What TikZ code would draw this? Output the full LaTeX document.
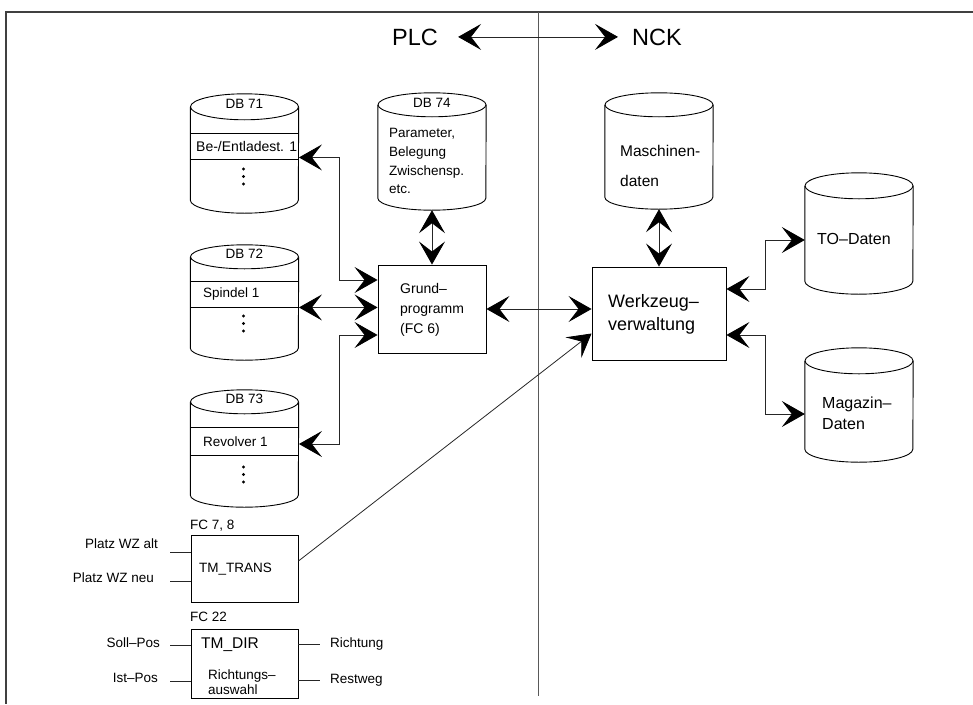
\documentclass[tikz,border=0pt]{standalone}
\usepackage{fontspec}
\setmainfont{Liberation Sans}
\usetikzlibrary{arrows.meta}

% database drum: name, centre x, y of top ellipse, y where the sides end, ellipse half height
\newcommand\dbcyl[5]{%
  \node[cylbody, minimum height={(#4-#3)*1pt}] (#1) at (#2,{(#3+#4)/2}) {};
  \draw[cylline] (#1.north west) -- (#1.south west)
    arc[start angle=180, end angle=360, x radius=54pt, y radius=#5pt] -- (#1.north east);
  \draw[cylline] (#1.north) ellipse[x radius=54pt, y radius=#5pt];
}

\tikzset{
  bigtip/.tip={Stealth[length=23pt,width=26pt,inset=10pt,color=black]},
  conn/.style={line width=0.8pt, draw=black!85},
  dbl/.style={conn, bigtip-bigtip},
  one/.style={conn, -bigtip},
  cylline/.style={line width=0.9pt, draw=black},
  cylbody/.style={rectangle, draw=none, inner sep=0pt, minimum width=108pt},
  band/.style={rectangle, draw=black, line width=0.9pt, inner sep=0pt, minimum width=108pt},
  box/.style={rectangle, draw=black, line width=0.9pt, inner sep=0pt},
  lbl/.style={anchor=base west, inner sep=0pt, font=\fontsize{13.5}{16}\selectfont},
  lblr/.style={lbl, anchor=base east},
  lblc/.style={lbl, anchor=base},
  dotc/.style={circle, fill=black, inner sep=0pt, minimum size=3.4pt},
}

\begin{document}
\begin{tikzpicture}[x=1pt, y=-1pt]
\useasboundingbox (0,0) rectangle (973,704);

% outer frame (top and left edges) and the PLC / NCK divider
\draw[line width=1.6pt, black!75] (973,12) -- (6,12) -- (6,704);
\draw[line width=1pt, black!65] (538,12) -- (538,696);

% headline
\node[lbl, font=\fontsize{23.5}{28}\selectfont] (plc) at (392,45) {PLC};
\node[lbl, font=\fontsize{23.5}{28}\selectfont] (nck) at (632,45) {NCK};
\draw[dbl] ([xshift=20pt]plc.east) -- ([xshift=-14pt]nck.west);

% data blocks on the PLC side
\dbcyl{db71}{244.5}{107}{200}{13}
\dbcyl{db72}{244.5}{257}{348}{12}
\dbcyl{db73}{244.5}{402}{495}{12}
\dbcyl{db74}{432}{105}{198}{12}

\node[band, minimum height=26pt] (be) at (244.5,146) {};
\node[band, minimum height=26pt] (sp) at (244.5,294) {};
\node[band, minimum height=28pt] (rev) at (244.5,441) {};

\node[lblc] (db71t) at (244.5,108) {DB 71};
\node[lblc] (db72t) at (244.5,258) {DB 72};
\node[lblc] (db73t) at (244.5,403) {DB 73};
\node[lblc] (db74t) at (432,107) {DB 74};

\node[lbl, font=\fontsize{14}{16}\selectfont] (bet) at (196,151.5) {Be-/Entladest. 1};
\node[lbl] (spt) at (203,297) {Spindel 1};
\node[lbl] (revt) at (203,446) {Revolver 1};

\node[dotc] (d1a) at (243.5,169) {};
\node[dotc] (d1b) at (243.5,176.5) {};
\node[dotc] (d1c) at (243.5,184) {};
\node[dotc] (d2a) at (243.5,316) {};
\node[dotc] (d2b) at (243.5,323.5) {};
\node[dotc] (d2c) at (243.5,331) {};
\node[dotc] (d3a) at (243.5,467) {};
\node[dotc] (d3b) at (243.5,474.5) {};
\node[dotc] (d3c) at (243.5,482) {};

\node[lbl] (p1) at (389,137) {Parameter,};
\node[lbl] (p2) at (389,156) {Belegung};
\node[lbl] (p3) at (389,175) {Zwischensp.};
\node[lbl] (p4) at (389,193) {etc.};

% basic program block
\node[box, minimum width=108pt, minimum height=88pt] (grund) at (432,309) {};
\node[lbl, font=\fontsize{14}{16}\selectfont] (g1) at (400,293) {Grund–};
\node[lbl, font=\fontsize{14}{16}\selectfont] (g2) at (400,313) {programm};
\node[lbl, font=\fontsize{14}{16}\selectfont] (g3) at (400,333) {(FC 6)};

% NCK side
\dbcyl{masch}{659}{105}{197}{12}
\dbcyl{to}{859}{186}{281}{13}
\dbcyl{mag}{859}{361}{449}{13}

\node[lbl, font=\fontsize{15.5}{18}\selectfont] (m1) at (620,156) {Maschinen-};
\node[lbl, font=\fontsize{15.5}{18}\selectfont] (m2) at (620,186) {daten};
\node[lbl, font=\fontsize{16}{18}\selectfont] (tot) at (817,244) {TO–Daten};
\node[lbl, font=\fontsize{16}{18}\selectfont] (mg1) at (822,408) {Magazin–};
\node[lbl, font=\fontsize{16}{18}\selectfont] (mg2) at (822,429) {Daten};

\node[box, minimum width=134pt, minimum height=93pt] (werk) at (659,313.5) {};
\node[lbl, font=\fontsize{18}{20}\selectfont] (w1) at (608,307) {Werkzeug–};
\node[lbl, font=\fontsize{18}{20}\selectfont] (w2) at (608,330) {verwaltung};

% function blocks
\node[lbl] (fc78) at (190,529) {FC 7, 8};
\node[box, minimum width=107pt, minimum height=67pt] (tmt) at (244.5,568.5) {};
\node[lbl] (tmtt) at (199,572) {TM\_TRANS};
\node[lblr] (pa) at (158,548) {Platz WZ alt};
\node[lblr] (pn) at (154,582) {Platz WZ neu};

\node[lbl] (fc22) at (190,621) {FC 22};
\node[box, minimum width=107pt, minimum height=69pt] (tmd) at (244.5,663.5) {};
\node[lbl, font=\fontsize{15.5}{18}\selectfont] (tmdt) at (201,648) {TM\_DIR};
\node[lbl] (ra1) at (208,679.5) {Richtungs–};
\node[lbl] (ra2) at (208,694) {auswahl};
\node[lblr] (soll) at (160,647) {Soll–Pos};
\node[lblr] (ist) at (158,682) {Ist–Pos};
\node[lbl] (richt) at (330,647) {Richtung};
\node[lbl] (rest) at (330,683) {Restweg};

% block pins
\draw[conn] ([yshift=16.5pt]tmt.west) -- ++(-21,0);
\draw[conn] ([yshift=-12.5pt]tmt.west) -- ++(-21,0);
\draw[conn] ([yshift=18.5pt]tmd.west) -- ++(-21,0);
\draw[conn] ([yshift=-17.5pt]tmd.west) -- ++(-21,0);
\draw[conn] ([yshift=19.5pt]tmd.east) -- ++(22,0);
\draw[conn] ([yshift=-16.5pt]tmd.east) -- ++(22,0);

% data flow
\draw[dbl] ([yshift=2pt]be.south east) -- ++(40,0) |- ([yshift=29pt]grund.west);
\draw[dbl] (sp.south east) -- (sp.south east -| grund.west);
\draw[dbl] ([yshift=-3pt]rev.east) -- ++(40,0) |- ([yshift=-26pt]grund.west);
\draw[dbl] ([yshift=-12pt]db74.south) -- (grund.north);
\draw[dbl] (grund.east) -- (grund.east -| werk.west);
\draw[dbl] ([yshift=-12pt]masch.south) -- (werk.north);
\draw[dbl] ([yshift=24.5pt]werk.east) -- ++(39,0) |- ([yshift=-6.5pt]to.west);
\draw[dbl] ([yshift=-21.5pt]werk.east) -- ++(39,0) |- ([yshift=-9pt]mag.west);
\draw[one] ([yshift=7.5pt]tmt.east) -- ([yshift=-20pt]werk.west);

\end{tikzpicture}
\end{document}
